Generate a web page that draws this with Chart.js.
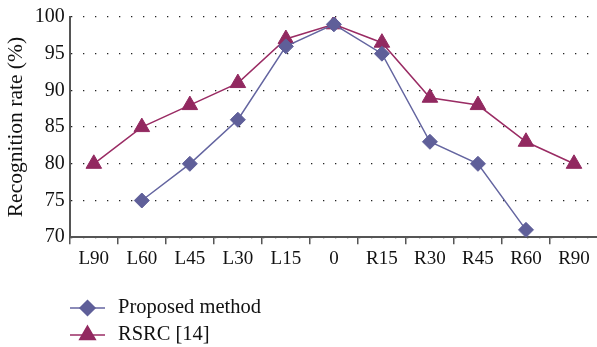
<!DOCTYPE html>
<html><head><meta charset="utf-8">
<script src="https://cdn.jsdelivr.net/npm/chart.js@4/dist/chart.umd.min.js"></script>
<style>html,body{margin:0;padding:0;background:#fff;overflow:hidden;}#wrap{width:597px;height:347px;position:relative;overflow:hidden;}</style>
</head><body><div id="wrap"><canvas id="c" width="608" height="347" style="width:608px;height:347px"></canvas></div>
<script>
const categories = ["L90","L60","L45","L30","L15","0","R15","R30","R45","R60","R90"];
const proposed = [null,75,80,86,96,99,95,83,80,71,null];
const rsrc = [80,85,88,91,97,99,96.5,89,88,83,80];
const seriesNames = ["Proposed method","RSRC [14]"];
const yTicks = [70,75,80,85,90,95,100];

const FONT = "'Liberation Serif','DejaVu Serif',serif";
const legendPlugin = {
  id: 'lineLegend',
  afterDraw(chart) {
    const ctx = chart.ctx;
    chart.data.datasets.forEach((ds, i) => {
      const y = 308 + i * 27;
      const x0 = 70, x1 = 105;
      ctx.save();
      ctx.strokeStyle = ds.borderColor; ctx.lineWidth = 1.5;
      ctx.beginPath(); ctx.moveTo(x0, y); ctx.lineTo(x1, y); ctx.stroke();
      ctx.fillStyle = ds.pointBackgroundColor;
      ctx.strokeStyle = ds.pointBorderColor;
      Chart.helpers.drawPoint(ctx, {pointStyle: ds.pointStyle, radius: ds.pointRadius, borderWidth: 1}, (x0 + x1) / 2, y);
      ctx.fillStyle = '#111';
      ctx.font = "20.5px " + FONT;
      ctx.textBaseline = 'middle';
      ctx.fillText(ds.label, 118, y);
      ctx.restore();
    });
  }
};

new Chart(document.getElementById('c'), {
  type: 'line',
  data: {
    labels: categories,
    datasets: [
      {label: seriesNames[0], data: proposed, borderColor: '#6465a0', borderWidth: 1.5,
       pointStyle: 'rectRot', pointRadius: 7.5, pointBackgroundColor: '#5f5f99', pointBorderColor: '#5f5f99', pointBorderWidth: 1, tension: 0},
      {label: seriesNames[1], data: rsrc, borderColor: '#9a2c64', borderWidth: 1.5,
       pointStyle: 'triangle', pointRadius: 9, pointBackgroundColor: '#922960', pointBorderColor: '#922960', pointBorderWidth: 1, tension: 0}
    ]
  },
  options: {
    responsive: false, animation: false,
    layout: {padding: {top: 0, right: 0, bottom: 74, left: 2}},
    plugins: {legend: {display: false}, tooltip: {enabled: false}},
    scales: {
      x: {
        offset: true,
        grid: {offset: true, drawOnChartArea: false, drawTicks: true, tickLength: 7, color: '#555', lineWidth: 1.5},
        border: {color: '#555', width: 2},
        ticks: {color: '#111', font: {family: FONT, size: 19}, padding: 3}
      },
      y: {
        min: 70, max: 100,
        afterBuildTicks(axis) { axis.ticks = yTicks.map(v => ({value: v})); },
        grid: {drawTicks: false, color: '#222', lineWidth: 1.3},
        border: {color: '#555', width: 2, dash: [1.3, 10.7]},
        ticks: {color: '#111', font: {family: FONT, size: 20}, padding: 5},
        title: {display: true, text: 'Recognition rate (%)', color: '#111', font: {family: FONT, size: 21.5}, padding: 1}
      }
    }
  },
  plugins: [legendPlugin]
});
</script></body></html>
